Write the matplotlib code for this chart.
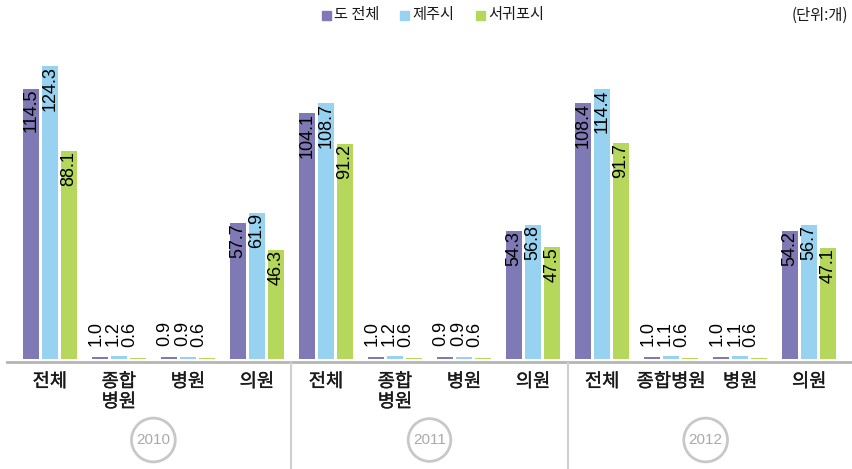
import matplotlib.pyplot as plt
import matplotlib.patheffects as pe
import numpy as np

plt.rcParams['font.family'] = ['Noto Sans CJK KR', 'DejaVu Sans']

years = ['2010', '2011', '2012']
categories = ['전체', '종합\n병원', '병원', '의원',
              '전체', '종합\n병원', '병원', '의원',
              '전체', '종합병원', '병원', '의원']
series_names = ['도 전체', '제주시', '서귀포시']

# values per category, in order 2010 / 2011 / 2012
whole = [114.5, 1.0, 0.9, 57.7,
         104.1, 1.0, 0.9, 54.3,
         108.4, 1.0, 1.0, 54.2]
jeju = [124.3, 1.2, 0.9, 61.9,
        108.7, 1.2, 0.9, 56.8,
        114.4, 1.1, 1.1, 56.7]
seogwipo = [88.1, 0.6, 0.6, 46.3,
            91.2, 0.6, 0.6, 47.5,
            91.7, 0.6, 0.6, 47.1]

colors = ['#7f7ab5', '#97d3f1', '#b5d75c']
W, H = 852, 469

fig = plt.figure(figsize=(W / 100, H / 100), dpi=100)
fig.patch.set_facecolor('white')
ax = fig.add_axes([7 / W, 1 - 359 / H, 1 - 7 / W, 329 / H])

# spine setup first: set_position resets the tick labels
for s in ['top', 'right', 'left']:
    ax.spines[s].set_visible(False)
ax.spines['bottom'].set_color('#b5b5b5')
ax.spines['bottom'].set_linewidth(2)
ax.spines['bottom'].set_position(('outward', 2.5))

x = np.arange(len(categories))
width = 0.235
offsets = [-0.275, 0.0, 0.275]
# labels of tiny bars sit above them, nudged a little to the left
small_shift = [-0.06, -0.08, -0.12]
num_font = ['Liberation Sans']
for vals, off, sh, c in zip([whole, jeju, seogwipo], offsets, small_shift, colors):
    ax.bar(x + off, vals, width=width, color=c, zorder=3)
    for xi, v in zip(x, vals):
        if v > 10:
            ax.text(xi + off, v, f'{v:.1f}', rotation=90, ha='center', va='top',
                    fontsize=13, family=num_font, zorder=4)
        else:
            ax.text(xi + off + sh, v + 4.5, f'{v:.1f}', rotation=90, ha='center',
                    va='bottom', fontsize=13, family=num_font, zorder=4)

ax.set_xlim(-0.62, 11.62)
ax.set_ylim(0, 139.5)
ax.set_yticks([])
ax.set_xticks(x)
ax.set_xticklabels(categories, fontsize=13.5, color='#1a1a1a', linespacing=0.95)
for lbl in ax.get_xticklabels():
    lbl.set_path_effects([pe.withStroke(linewidth=0.25, foreground='#1a1a1a')])
ax.tick_params(axis='x', length=0, pad=6)

# year separators below the axis
for xs in [3.5, 7.5]:
    px = 7 + (xs + 0.62) / 12.24 * (W - 7)
    fig.add_artist(plt.Line2D([px / W, px / W], [0, 1 - 363 / H],
                              color='#cfcfcf', lw=1.5))

# year badges
for i, yr in enumerate(years):
    cx = 4 * i + 1.5
    px = 7 + (cx + 0.62) / 12.24 * (W - 7)
    fig.text(px / W, 1 - 440 / H, yr, ha='center', va='center', fontsize=11,
             color='#aaaaaa', family=num_font,
             bbox=dict(boxstyle='circle,pad=0.32', fc='none', ec='#c8c8c8', lw=2))

# legend and unit
leg_x = [322, 400, 476]
for lx, name, c in zip(leg_x, series_names, colors):
    fig.patches.append(plt.Rectangle((lx / W, 1 - 20 / H), 9 / W, 9 / H,
                                     transform=fig.transFigure, color=c))
    fig.text((lx + 12) / W, 1 - 15 / H, name, ha='left', va='center',
             fontsize=11, color='#1a1a1a')
fig.text(848 / W, 1 - 15 / H, '(단위:개)', ha='right', va='center',
         fontsize=11, color='#1a1a1a')

fig.savefig('out.png', dpi=100)
